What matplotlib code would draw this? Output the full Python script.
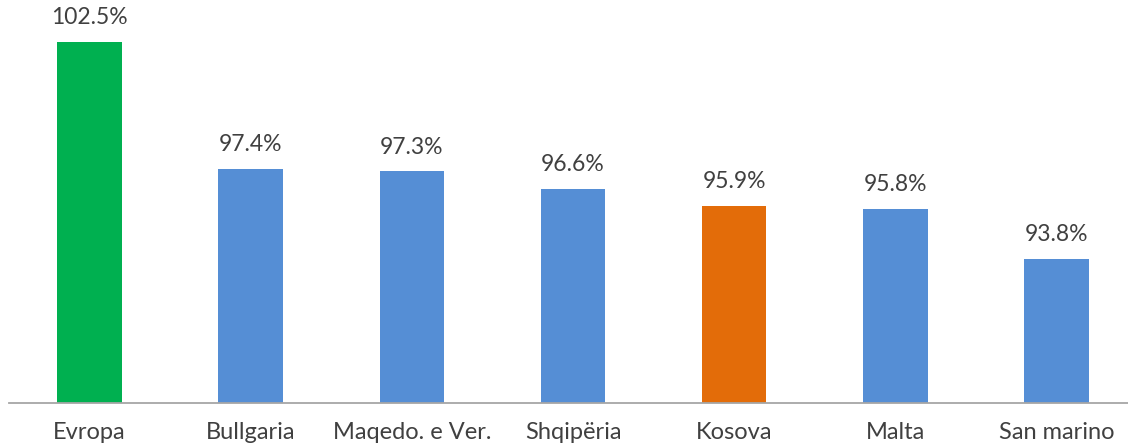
import matplotlib
matplotlib.use("Agg")
import matplotlib.pyplot as plt

categories = ["Evropa", "Bullgaria", "Maqedo. e Ver.", "Shqipëria", "Kosova", "Malta", "San marino"]
values = [102.5, 97.4, 97.3, 96.6, 95.9, 95.8, 93.8]
colors = ["#00B050", "#558ED5", "#558ED5", "#558ED5", "#E36C09", "#558ED5", "#558ED5"]

plt.rcParams['font.family'] = ['Lato', 'DejaVu Sans']
W, H = 1128, 443
fig = plt.figure(figsize=(W / 100, H / 100), dpi=100)
left_px, right_px = 9, 1137
base_px, top_px = 403, 5
ax = fig.add_axes([left_px / W, 1 - base_px / H, (right_px - left_px) / W, (base_px - top_px) / H])

x = list(range(len(categories)))
bars = ax.bar(x, values, width=0.4, color=colors, bottom=0)
ax.set_xlim(-0.5, len(categories) - 0.5)
ax.set_ylim(88, 88 + (base_px - top_px) / 24.9)

for xi, v in zip(x, values):
    ax.annotate(f"{v:.1f}%", (xi, v), xytext=(0, 10), textcoords="offset points",
                ha="center", va="bottom", fontsize=16.5, color="#404040")

ax.set_xticks(x)
ax.set_xticklabels(categories, fontsize=17, color="#404040")
ax.tick_params(axis="x", length=0, pad=14)
ax.set_yticks([])
for s in ["top", "left", "right"]:
    ax.spines[s].set_visible(False)
ax.spines["bottom"].set_color("#A6A6A6")
ax.spines["bottom"].set_linewidth(1.3)

fig.savefig("out.png", dpi=100)
